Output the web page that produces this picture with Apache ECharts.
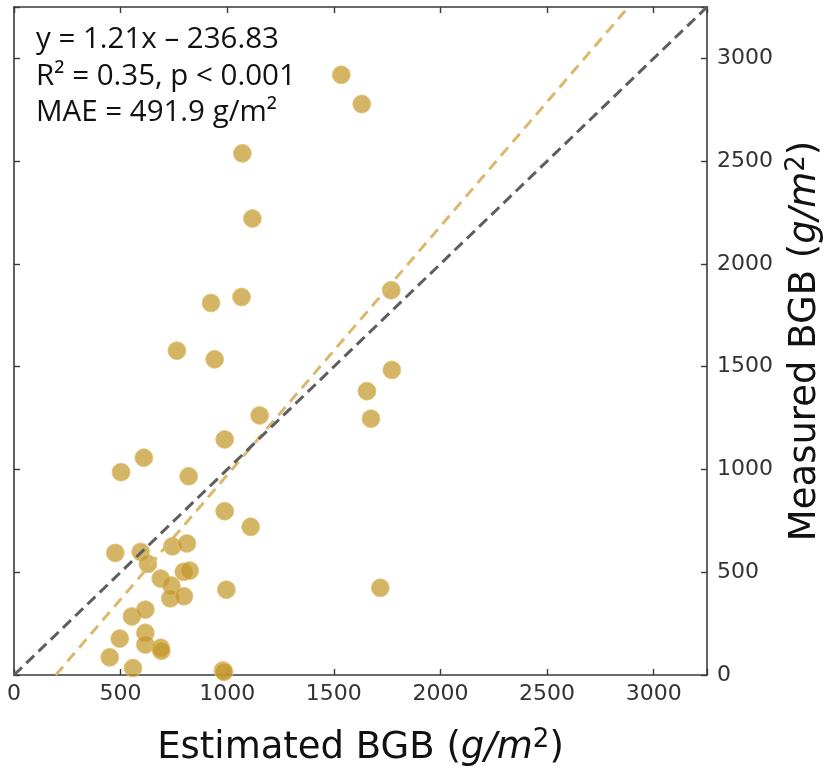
<!DOCTYPE html>
<html>
<head>
<meta charset="utf-8">
<script src="https://cdn.jsdelivr.net/npm/echarts@6/dist/echarts.min.js"></script>
<style>
html,body{margin:0;padding:0;background:#fff;}
#chart{width:827px;height:769px;}
</style>
</head>
<body>
<div id="chart"></div>
<script>
// Estimated BGB (x) and measured BGB (y), g/m2
const estimated = [1535,1631,1071,1118,924,1067,1769,764,941,1772,1655,1674,1152,988,609,502,819,988,1110,1718,
  475,594,628,743,811,688,738,796,824,733,797,996,553,616,496,616,616,688,691,449,558,980,985];
const measured = [2920,2778,2538,2221,1810,1839,1872,1578,1536,1484,1381,1247,1263,1146,1057,987,967,797,721,424,
  594,599,541,626,640,469,435,502,508,373,383,415,285,318,177,205,148,132,118,86,34,22,15];
const slope = 1.21;
const intercept = -236.83;
const axisMin = 0;
const axisMax = 3250;
const tickStep = 500;
const statLines = ['y = 1.21x \u2013 236.83', 'R\u00b2 = 0.35, p < 0.001', 'MAE = 491.9 g/m\u00b2'];
const xTitle = '{a|Estimated BGB (}{i|g/m}{s|2}{a|)}';
const yTitle = '{a|Measured BGB (}{i|g/m}{s|2}{a|)}';

const points = estimated.map((x, i) => [x, measured[i]]);
const oneToOne = [[axisMin, axisMin], [axisMax, axisMax]];
const fitX0 = (axisMin - intercept) / slope;
const fitX1 = (axisMax - intercept) / slope;
const fitLine = [[fitX0, axisMin], [fitX1, axisMax]];

const axisColor = '#3a3a3a';
const labelFmt = v => (v % tickStep === 0 ? String(v) : '');
const nameRich = {
  a: {fontFamily: 'DejaVu Sans', fontSize: 37, color: '#111'},
  i: {fontFamily: 'DejaVu Sans', fontSize: 37, fontStyle: 'italic', color: '#111'},
  s: {fontFamily: 'DejaVu Sans', fontSize: 26, color: '#111', verticalAlign: 'top', padding: [0, 0, 16, 0]}
};
function baseAxis(extra) {
  return Object.assign({
    type: 'value', min: axisMin, max: axisMax, interval: tickStep,
    splitLine: {show: false},
    axisLine: {show: true, onZero: false, lineStyle: {color: axisColor, width: 1.6}},
    axisTick: {show: true, inside: true, length: 6, lineStyle: {color: axisColor, width: 1.4}},
  }, extra);
}

const chart = echarts.init(document.getElementById('chart'));
chart.setOption({
  animation: false,
  backgroundColor: '#fff',
  grid: {left: 14, right: 120, top: 7, bottom: 94, containLabel: false, outerBoundsMode: 'none'},
  xAxis: [
    baseAxis({position: 'bottom',
      axisLabel: {show: true, formatter: labelFmt, margin: 8, color: '#333', fontFamily: 'DejaVu Sans', fontSize: 22},
      name: xTitle, nameLocation: 'middle', nameGap: 52, nameTextStyle: {rich: nameRich}}),
    baseAxis({position: 'top', axisLabel: {show: false}})
  ],
  yAxis: [
    baseAxis({position: 'right',
      axisLabel: {show: true, formatter: labelFmt, margin: 10, color: '#333', fontFamily: 'DejaVu Sans', fontSize: 22},
      name: yTitle, nameLocation: 'middle', nameRotate: 90, nameGap: 77, nameTextStyle: {rich: nameRich}}),
    baseAxis({position: 'left', axisLabel: {show: false}})
  ],
  series: [
    {
      type: 'scatter', data: points, symbol: 'circle', symbolSize: 18, z: 2,
      itemStyle: {color: '#c4972a', opacity: 0.72, borderColor: '#e2c274', borderWidth: 1}
    },
    {
      type: 'line', data: oneToOne, symbol: 'none', z: 5, silent: true,
      lineStyle: {color: '#5e5e5e', width: 3, type: [11, 6]}
    },
    {
      type: 'line', data: fitLine, symbol: 'none', z: 4, silent: true,
      lineStyle: {color: '#d9b96e', width: 3, type: [11, 7]}
    }
  ],
  graphic: statLines.map((t, i) => ({
    type: 'text', left: 36, top: 25 + i * 36.5, z: 10,
    style: {text: t, fill: '#111', fontFamily: 'Open Sans', fontSize: 29.5}
  }))
});
</script>
</body>
</html>
